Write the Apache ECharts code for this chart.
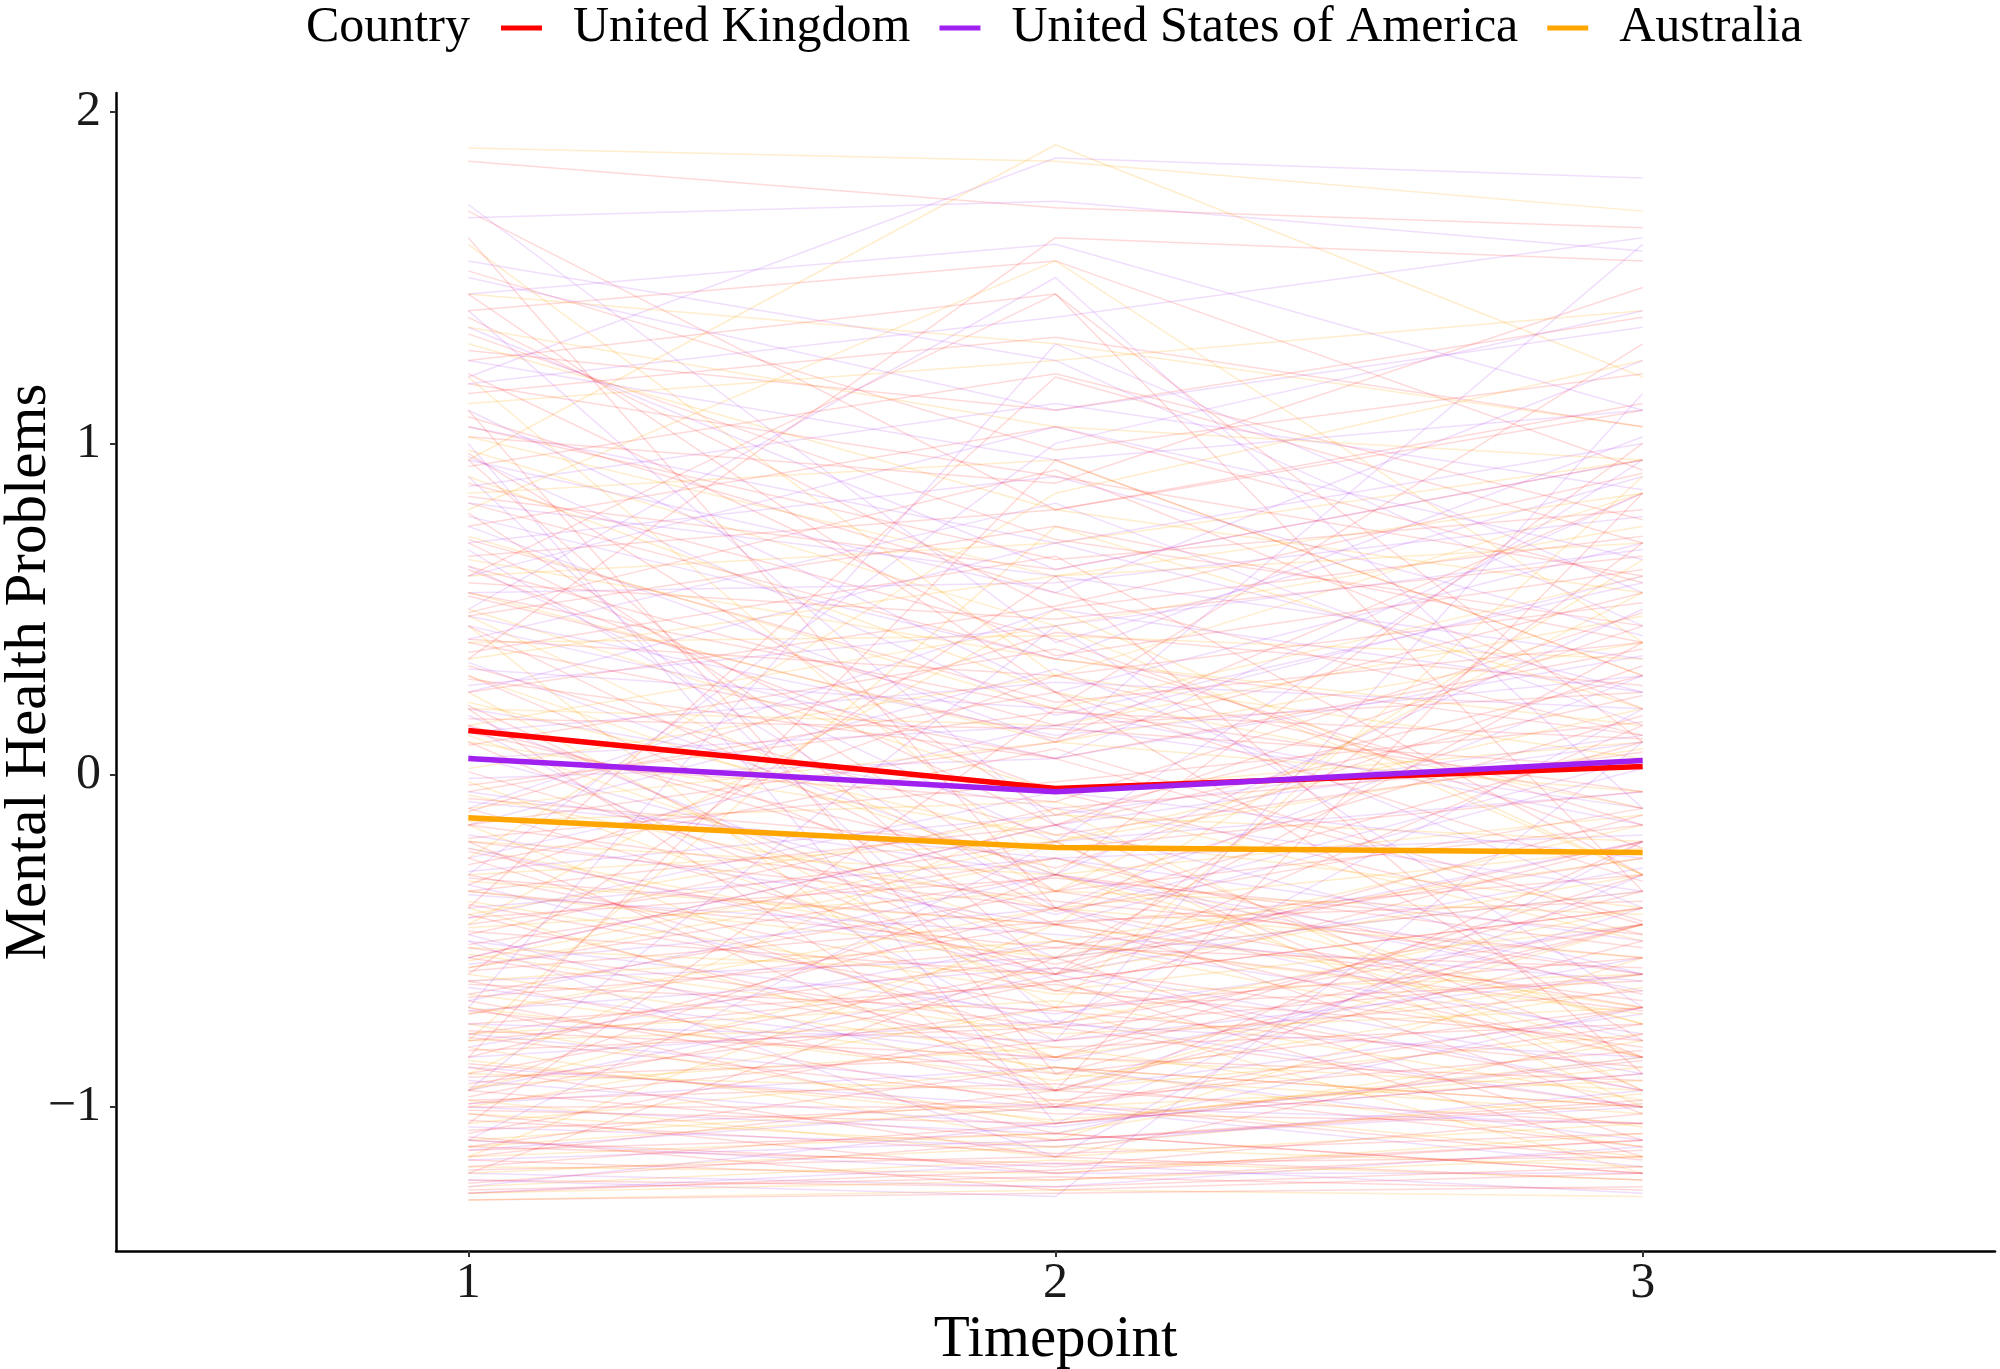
<!DOCTYPE html>
<html><head><meta charset="utf-8">
<script src="https://cdn.jsdelivr.net/npm/echarts@6/dist/echarts.min.js"></script>
<style>html,body{margin:0;padding:0;background:#fff}#c{width:2000px;height:1369px}</style>
</head><body><div id="c"></div>
<script>
const timepoints = [1, 2, 3];
const yTicks = [-1, 0, 1, 2];
const countries = ['United Kingdom', 'United States of America', 'Australia'];
const countryColors = ['#FF0000', '#A020F0', '#FFA500'];

const meanUK = [0.135, -0.040, 0.026];
const meanUSA = [0.050, -0.050, 0.044];
const meanAUS = [-0.128, -0.218, -0.233];

const indivUK = [
[1.85,1.71,1.65],[1.52,0.98,1.21],[1.40,1.55,0.92],[1.33,0.71,0.45],[1.28,1.10,1.38],
[1.21,0.36,0.62],[1.15,1.32,1.05],[1.08,0.55,0.12],[1.02,0.88,1.47],[0.97,-0.12,0.30],
[0.93,1.21,0.77],[0.88,0.41,-0.22],[0.84,0.62,0.95],[0.79,-0.35,0.18],[0.75,1.05,0.58],
[0.71,0.22,0.40],[0.66,0.80,1.12],[0.62,-0.05,-0.48],[0.58,0.47,0.66],[0.54,0.11,0.85],
[0.49,0.92,0.20],[0.45,-0.41,-0.10],[0.41,0.30,0.52],[0.37,0.66,-0.30],[0.33,-0.18,0.07],
[0.29,0.05,0.38],[0.25,0.51,0.91],[0.21,-0.62,-0.40],[0.17,0.14,0.02],[0.13,-0.28,0.33],
[0.09,0.38,-0.15],[0.05,-0.08,0.49],[0.01,-0.50,-0.71],[-0.03,0.19,0.11],[-0.07,-0.22,-0.05],
[-0.11,0.43,0.27],[-0.15,-0.38,-0.55],[-0.19,-0.02,0.16],[-0.23,-0.57,-0.20],[-0.27,0.08,-0.44],
[-0.31,-0.45,-0.30],[-0.35,-0.15,0.24],[-0.39,-0.70,-0.62],[-0.43,-0.31,-0.48],[-0.47,-0.60,-0.12],
[-0.51,-0.25,-0.66],[-0.55,-0.82,-0.75],[-0.59,-0.44,-0.38],[-0.63,-0.71,-0.88],[-0.67,-0.52,-0.58],
[-0.71,-0.90,-0.70],[-0.75,-0.63,-0.95],[-0.79,-0.98,-0.83],[-0.83,-0.76,-0.60],[-0.87,-1.02,-1.05],
[-0.91,-0.85,-0.92],[-0.95,-1.10,-0.99],[-0.98,-0.93,-1.12],[-1.01,-1.05,-0.86],[-1.04,-1.14,-1.08],
[-1.07,-0.99,-1.16],[-1.10,-1.18,-1.02],[-1.13,-1.08,-1.20],[-1.16,-1.22,-1.13],[-1.19,-1.15,-1.22],
[-1.22,-1.24,-1.18],[-1.25,-1.21,-1.25],[-1.28,-1.26,-1.24],
[1.62,-0.40,0.10],[-0.85,0.95,0.30],[1.10,-0.90,-0.45],[-1.05,0.20,1.30],[0.60,1.45,-0.35],
[-0.40,1.20,0.70],[1.45,0.25,-0.80],[-0.95,-0.30,1.00],[0.20,-1.00,-0.20],[1.70,0.80,1.10],
[-0.60,0.60,-0.90],[0.95,-0.60,0.70],[-1.20,-0.55,0.40],[0.35,1.62,1.55],[-0.20,-0.95,0.85],
[1.25,1.45,0.10],
[-0.30,-0.65,-0.80],[-0.45,-0.20,-0.95],[-0.62,-0.95,-0.50],[-0.78,-0.55,-1.10],[-0.88,-1.15,-0.78],
[-0.99,-0.80,-0.65],[-1.12,-0.88,-1.00],[-1.18,-1.05,-0.90],[-0.52,-0.76,-1.00],[-0.70,-1.08,-1.20],
[0.15,-0.35,-0.60],[-0.05,0.25,-0.32],[-0.25,-0.80,-0.35],[-0.48,-0.10,0.05],[-0.66,-0.35,-0.15],
[-0.80,-0.62,-0.40],[-0.93,-0.70,-0.55],[-1.08,-0.75,-0.45],[-1.15,-0.95,-1.05],[-1.23,-1.10,-0.98],
[-0.35,-0.52,-0.25],[-0.58,-0.30,-0.52],[-0.72,-0.45,-0.68],[-0.90,-0.58,-0.82],[-1.02,-1.20,-1.10],
[0.55,0.20,-0.05],[0.70,-0.15,0.45],[0.82,0.35,0.12],[1.05,0.65,0.80],[1.18,0.90,0.60],
[0.30,-0.45,-0.85],[0.10,-0.65,-0.20],[-0.15,0.10,0.55],[-0.42,-0.85,-0.45],[-0.68,-1.00,-0.70],
[-0.85,-0.40,-1.02],[-1.00,-1.00,-0.75],[-1.12,-1.17,-1.15],[-1.26,-1.19,-1.10],[-0.20,-0.40,-0.70],
[0.40,0.05,-0.45],[0.63,0.15,0.25],[-0.10,-0.60,0.15],[-0.33,0.30,-0.10],[-0.55,-0.15,-0.85],
[-0.77,-0.85,-0.30],[-0.97,-0.62,-1.15],[-1.09,-1.25,-1.20],[1.38,0.50,0.72],[0.48,0.75,0.40]
];

const indivUSA = [
[1.68,1.73,1.58],[1.20,1.86,1.80],[1.50,1.10,1.35],[1.35,0.62,0.95],[1.18,1.38,1.62],
[1.05,0.70,0.25],[0.96,0.18,0.58],[0.87,1.12,0.86],[0.78,0.35,1.02],[0.70,0.90,0.42],
[0.63,-0.20,-0.05],[0.55,0.58,0.78],[0.48,0.12,0.30],[0.41,0.82,0.15],[0.34,-0.30,0.50],
[0.27,0.45,0.68],[0.20,-0.10,-0.35],[0.13,0.28,0.20],[0.06,-0.42,0.05],[-0.01,0.05,0.36],
[-0.08,-0.25,-0.18],[-0.15,0.32,-0.40],[-0.22,-0.60,-0.28],[-0.29,-0.12,0.12],[-0.36,-0.48,-0.62],
[-0.43,-0.05,-0.25],[-0.50,-0.72,-0.45],[-0.57,-0.40,-0.80],[-0.64,-0.86,-0.55],[-0.71,-0.58,-0.90],
[-0.78,-0.95,-0.72],[-0.85,-0.74,-1.00],[-0.92,-1.06,-0.85],[-0.99,-0.88,-1.10],[-1.06,-1.12,-0.95],
[-1.13,-1.00,-1.18],[-1.20,-1.24,-1.12],[-1.26,-1.17,-1.26],
[1.72,0.40,0.90],[-0.70,1.30,0.55],[0.90,-0.75,0.20],[-1.10,-0.20,0.95],[1.40,-0.15,-0.60],
[-0.30,1.00,1.40],[0.50,1.50,-0.10],[-0.95,0.45,-0.70],[1.00,-1.05,-0.30],[-1.22,-1.27,0.10],
[0.15,-0.80,1.15],[1.55,1.25,0.45],[-0.50,-1.15,-0.20],[0.75,0.10,1.60],
[0.95,0.55,1.25],[0.60,1.05,0.65],[0.32,0.20,-0.15],[0.05,0.15,0.60],[-0.18,-0.45,0.02],
[-0.40,-0.25,-0.50],[-0.62,-0.55,-0.35],[-0.82,-0.50,-0.78],[-1.00,-1.08,-0.70],[-1.16,-1.10,-1.00],
[1.25,0.95,1.10],[0.82,0.60,0.35],[0.45,0.05,0.85],[0.18,-0.55,-0.20],[-0.10,0.50,0.25],
[-0.33,-0.75,-0.85],[-0.55,-0.15,0.10],[-0.75,-0.80,-0.60],[-0.95,-0.60,-0.95],[-1.10,-1.20,-1.20],
[1.45,1.60,1.10],[1.10,0.25,0.70],[0.68,-0.40,0.30],[0.25,0.70,1.00],[-0.05,-0.30,-0.60],
[-0.25,0.15,-0.10],[-0.48,-0.95,-0.40],[-0.68,-0.30,-0.65],[-0.88,-1.00,-1.05],[-1.24,-1.05,-0.90]
];

const indivAUS = [
[1.89,1.85,1.70],[0.95,1.90,1.20],[1.45,1.30,1.05],[1.30,0.80,0.55],[1.12,1.25,1.40],
[0.98,0.45,0.75],[0.85,0.95,0.30],[0.72,0.20,0.60],[0.60,0.70,0.95],[0.50,-0.05,0.10],
[0.40,0.42,0.35],[0.30,-0.30,-0.12],[0.20,0.15,0.48],[0.10,-0.18,-0.40],[0.02,0.30,0.05],
[-0.06,-0.40,-0.22],[-0.14,-0.08,-0.50],[-0.22,-0.55,-0.35],[-0.30,-0.20,0.08],[-0.38,-0.66,-0.60],
[-0.46,-0.35,-0.42],[-0.54,-0.78,-0.70],[-0.62,-0.50,-0.85],[-0.70,-0.92,-0.64],[-0.78,-0.68,-0.98],
[-0.86,-1.04,-0.88],[-0.94,-0.82,-1.06],[-1.02,-1.12,-0.96],[-1.10,-0.98,-1.15],[-1.18,-1.20,-1.08],
[-1.24,-1.16,-1.22],[-1.28,-1.25,-1.27],[-0.40,-0.90,-1.02],[-0.58,-0.25,-0.75],[-0.82,-1.10,-0.55],
[-1.00,-0.70,-1.20],[-1.15,-1.08,-0.80],[-0.66,-0.88,-1.12],
[1.60,0.30,0.85],[-0.80,0.75,0.20],[0.45,-0.95,-0.45],[-1.15,-0.45,0.65],[1.20,-0.30,-0.75],
[-0.25,0.85,1.25],[0.80,1.55,0.40],[-0.90,-0.10,-0.95],[0.25,-0.70,0.90],[-0.45,0.50,-0.30],
[0.65,0.35,0.15],[0.35,0.60,0.70],[0.12,-0.50,-0.25],[-0.10,0.10,-0.05],[-0.32,-0.45,-0.70],
[-0.52,-0.60,-0.30],[-0.72,-0.40,-0.55],[-0.90,-0.95,-0.78],[-1.05,-0.88,-1.00],[-1.20,-1.12,-1.18],
[1.02,0.60,0.85],[0.55,0.10,0.40],[0.22,-0.20,0.20],[-0.02,-0.65,-0.45],[-0.20,-0.30,-0.85],
[-0.42,-0.12,-0.20],[-0.60,-0.85,-0.95],[-0.80,-0.75,-0.40],[-0.98,-1.15,-1.05],[-1.12,-1.00,-0.92],
[1.35,1.05,0.95],[0.90,0.25,-0.10],[0.48,-0.35,0.55],[0.15,0.45,-0.30],[-0.15,-0.85,-0.60],
[-0.35,-0.55,-0.15],[-0.56,-0.20,-1.00],[-0.75,-1.05,-0.85],[-0.95,-0.50,-0.72],[-1.26,-1.22,-1.15]
];

const FONT = 'Liberation Serif, Times New Roman, serif';
const toPts = v => timepoints.map((t, i) => [t, v[i]]);

const groups = [indivUK, indivUSA, indivAUS];
const faintOpacity = [0.15, 0.15, 0.2];
const series = [];
const maxLen = Math.max(...groups.map(g => g.length));
for (let i = 0; i < maxLen; i++) {
  groups.forEach((g, gi) => {
    if (i < g.length) {
      series.push({
        type: 'line', name: 'ind' + gi + '_' + i, data: toPts(g[i]),
        symbol: 'none', showSymbol: false, silent: true, z: 1,
        lineStyle: { color: countryColors[gi], width: 1.5, opacity: faintOpacity[gi] },
        emphasis: { disabled: true }
      });
    }
  });
}
[meanUK, meanUSA, meanAUS].forEach((m, gi) => {
  series.push({
    type: 'line', name: countries[gi], data: toPts(m),
    symbol: 'none', showSymbol: false, z: 5,
    itemStyle: { color: countryColors[gi] },
    lineStyle: { color: countryColors[gi], width: 5.5 },
    emphasis: { disabled: true }
  });
});

const chart = echarts.init(document.getElementById('c'));
chart.setOption({
  animation: false,
  backgroundColor: '#ffffff',
  title: {
    text: 'Country', left: 306, top: 3, padding: 0,
    textStyle: { fontFamily: FONT, fontSize: 50, fontWeight: 'normal', color: '#000' }
  },
  legend: {
    data: countries, left: 501, top: 3, padding: 0,
    icon: 'rect', itemWidth: 41, itemHeight: 5, itemGap: 29,
    textStyle: { fontFamily: FONT, fontSize: 50, color: '#000', padding: [0, 0, 0, 26] }
  },
  grid: { left: 116, right: 5, top: 93, bottom: 118, containLabel: false, outerBoundsMode: 'none' },
  xAxis: {
    type: 'value', min: 0.4, max: 3.6,
    name: 'Timepoint', nameLocation: 'middle', nameGap: 60, nameMoveOverlap: false,
    nameTextStyle: { fontFamily: FONT, fontSize: 59, color: '#000' },
    axisLine: { show: true, onZero: false, lineStyle: { color: '#000', width: 2.5 } },
    axisTick: { show: true, length: 6, customValues: timepoints, lineStyle: { color: '#333', width: 2 } },
    axisLabel: { customValues: timepoints, fontFamily: FONT, fontSize: 50, color: '#1a1a1a', margin: 8 },
    splitLine: { show: false }
  },
  yAxis: {
    type: 'value', min: -1.434, max: 2.056,
    name: 'Mental Health Problems', nameLocation: 'middle', nameGap: 57, nameRotate: 90,
    nameMoveOverlap: false,
    nameTextStyle: { fontFamily: FONT, fontSize: 59, color: '#000' },
    axisLine: { show: true, onZero: false, lineStyle: { color: '#000', width: 2.5 } },
    axisTick: { show: true, length: 6, customValues: yTicks, lineStyle: { color: '#333', width: 2 } },
    axisLabel: {
      customValues: yTicks, fontFamily: FONT, fontSize: 50, color: '#1a1a1a', margin: 15,
      formatter: v => (v < 0 ? '\u2212' + Math.abs(v) : String(v))
    },
    splitLine: { show: false }
  },
  series: series
});
</script>
</body></html>
